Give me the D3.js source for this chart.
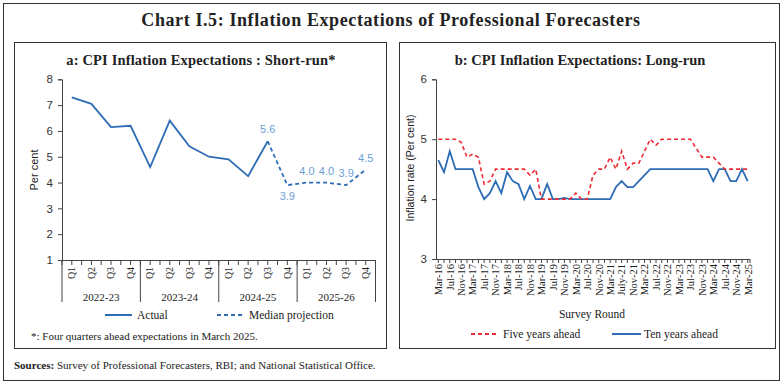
<!DOCTYPE html>
<html><head><meta charset="utf-8">
<script src="https://cdn.jsdelivr.net/npm/d3@7"></script>
<style>
body{margin:0;background:#fff;}
svg{display:block;}
</style></head>
<body>
<svg id="c" width="783" height="383"></svg>
<script>
// ---------- Data: panel a ----------
const quarters = ["Q1","Q2","Q3","Q4","Q1","Q2","Q3","Q4","Q1","Q2","Q3","Q4","Q1","Q2","Q3","Q4"];
const years = ["2022-23","2023-24","2024-25","2025-26"];
const actualValues = [7.3,7.05,6.15,6.2,4.6,6.4,5.4,5.0,4.9,4.25,5.6];
const projectionValues = [5.6,3.9,4.0,4.0,3.9,4.5]; // starts at last actual (index 10)
const projectionLabels = ["5.6","3.9","4.0","4.0","3.9","4.5"];
const yTicksA = [1,2,3,4,5,6,7,8];

// ---------- Data: panel b ----------
const rounds = ["Mar-16","May-16","Jul-16","Sep-16","Nov-16","Jan-17","Mar-17","May-17","Jul-17","Sep-17","Nov-17","Jan-18",
"Mar-18","May-18","Jul-18","Sep-18","Nov-18","Jan-19","Mar-19","May-19","Jul-19","Sep-19","Nov-19","Jan-20",
"Mar-20","May-20","Jul-20","Sep-20","Nov-20","Jan-21","Mar-21","May-21","July-21","Sep-21","Nov-21","Jan-22",
"Mar-22","May-22","Jul-22","Sep-22","Nov-22","Jan-23","Mar-23","May-23","Jul-23","Sep-23","Nov-23","Jan-24",
"Mar-24","May-24","Jul-24","Sep-24","Nov-24","Jan-25","Mar-25"];
const fiveYears = [5.0,5.0,5.0,5.0,4.95,4.7,4.75,4.7,4.25,4.3,4.5,4.5,4.5,4.5,4.5,4.5,4.4,4.5,4.0,4.0,
4.0,4.0,4.0,4.0,4.1,4.0,4.0,4.4,4.5,4.5,4.7,4.5,4.8,4.5,4.6,4.6,4.8,5.0,4.9,5.0,
5.0,5.0,5.0,5.0,5.0,4.85,4.7,4.7,4.7,4.6,4.5,4.5,4.5,4.5,4.5];
const tenYears = [4.65,4.45,4.8,4.5,4.5,4.5,4.5,4.2,4.0,4.1,4.3,4.1,4.45,4.3,4.25,4.0,4.22,4.0,4.0,4.25,
4.0,4.0,4.02,4.0,4.0,4.0,4.0,4.0,4.0,4.0,4.0,4.2,4.3,4.2,4.2,4.3,4.4,4.5,4.5,4.5,
4.5,4.5,4.5,4.5,4.5,4.5,4.5,4.5,4.3,4.5,4.5,4.3,4.3,4.5,4.3];
const yTicksB = [3,4,5,6];

// ---------- Styles ----------
const SERIF = "'Liberation Serif','DejaVu Serif',serif";
const SANS = "'Liberation Sans','DejaVu Sans',Arial,sans-serif";
const BLUE = "#2e6db5";
const LBLUE = "#6c9fd6";
const RED = "#ee2a32";
const TXT = "#222";
const AX = "#444";

const svg = d3.select("#c");

// frames
svg.append("rect").attr("x",3.5).attr("y",3.5).attr("width",776).attr("height",377)
  .attr("fill","none").attr("stroke","#333").attr("stroke-width",1);
svg.append("rect").attr("x",14.5).attr("y",42.5).attr("width",372).attr("height",306)
  .attr("fill","none").attr("stroke","#333").attr("stroke-width",1);
svg.append("rect").attr("x",399.5).attr("y",42.5).attr("width",376).attr("height",306)
  .attr("fill","none").attr("stroke","#333").attr("stroke-width",1);

svg.append("text").attr("x",391).attr("y",26).attr("text-anchor","middle")
  .attr("font-family",SERIF).attr("font-weight","bold").attr("font-size",18).attr("letter-spacing",0.6).attr("fill",TXT)
  .text("Chart I.5: Inflation Expectations of Professional Forecasters");

svg.append("text").attr("x",201).attr("y",65).attr("text-anchor","middle")
  .attr("font-family",SERIF).attr("font-weight","bold").attr("font-size",14.5).attr("letter-spacing",0.15).attr("fill",TXT)
  .text("a: CPI Inflation Expectations : Short-run*");
svg.append("text").attr("x",580).attr("y",65).attr("text-anchor","middle")
  .attr("font-family",SERIF).attr("font-weight","bold").attr("font-size",14.5).attr("fill",TXT)
  .text("b: CPI Inflation Expectations: Long-run");

const src = svg.append("text").attr("x",14).attr("y",369).attr("font-family",SERIF).attr("font-size",11).attr("fill",TXT);
src.append("tspan").attr("font-weight","bold").text("Sources: ");
src.append("tspan").text("Survey of Professional Forecasters, RBI; and National Statistical Office.");

// ---------- Panel a ----------
const xA = d3.scaleBand().domain(d3.range(quarters.length)).range([62,375.5]).padding(0);
const yA = d3.scaleLinear().domain([1,8]).range([260,79.3]);
const gA = svg.append("g");

const yAxisA = gA.append("g").attr("transform","translate(62,0)")
  .call(d3.axisLeft(yA).tickValues(yTicksA).tickSize(4).tickFormat(d3.format("d")));
yAxisA.select(".domain").attr("stroke",AX);
yAxisA.selectAll(".tick line").attr("stroke",AX);
yAxisA.selectAll("text").attr("font-family",SANS).attr("font-size",11.5).attr("fill","#333").attr("dx",-2);

// x axis line
gA.append("line").attr("x1",62).attr("x2",375.5).attr("y1",260.5).attr("y2",260.5).attr("stroke",AX);
const halfTicks = [];
d3.range(quarters.length).forEach(i=>{ halfTicks.push(xA(i)); halfTicks.push(xA(i)+xA.bandwidth()/2); });
halfTicks.push(375.5);
gA.selectAll(".ht").data(halfTicks).join("line").attr("x1",d=>d).attr("x2",d=>d)
  .attr("y1",260).attr("y2",265).attr("stroke",AX);
// group separators
const groupEdges = d3.range(years.length+1).map(k=> k<years.length ? xA(k*4) : xA(15)+xA.bandwidth());
gA.selectAll(".gs").data(groupEdges).join("line").attr("x1",d=>d).attr("x2",d=>d)
  .attr("y1",260).attr("y2",302).attr("stroke",AX);
// quarter labels
gA.selectAll(".ql").data(quarters).join("text")
  .attr("transform",(d,i)=>`translate(${xA(i)+xA.bandwidth()/2+3.3},273) rotate(-90)`)
  .attr("text-anchor","middle").attr("font-family",SERIF).attr("font-size",10).attr("fill",TXT).text(d=>d);
gA.selectAll(".yl").data(years).join("text")
  .attr("x",(d,i)=>xA(i*4)+2*xA.bandwidth()).attr("y",301)
  .attr("text-anchor","middle").attr("font-family",SERIF).attr("font-size",11).attr("fill",TXT).text(d=>d);

gA.append("text").attr("transform","translate(38,170) rotate(-90)").attr("text-anchor","middle")
  .attr("font-family",SANS).attr("font-size",11).attr("fill",TXT).text("Per cent");

const lineA = d3.line().x(d=>xA(d.i)+xA.bandwidth()/2).y(d=>yA(d.v));
const actualPts = actualValues.map((v,i)=>({i,v}));
const projPts = projectionValues.map((v,k)=>({i:10+k,v}));
gA.append("path").datum(actualPts).attr("d",lineA).attr("fill","none").attr("stroke",BLUE).attr("stroke-width",1.8);
gA.append("path").datum(projPts).attr("d",lineA).attr("fill","none").attr("stroke",BLUE).attr("stroke-width",1.8)
  .attr("stroke-dasharray","4,3");
gA.selectAll(".dl").data(projPts).join("text")
  .attr("x",d=>xA(d.i)+xA.bandwidth()/2).attr("y",(d,k)=> k===1 ? yA(d.v)+15 : yA(d.v)-8)
  .attr("text-anchor","middle").attr("font-family",SANS).attr("font-size",11).attr("fill",LBLUE)
  .text((d,k)=>projectionLabels[k]);

// legend a
gA.append("line").attr("x1",105).attr("x2",132).attr("y1",315).attr("y2",315).attr("stroke",BLUE).attr("stroke-width",2);
gA.append("text").attr("x",137).attr("y",319).attr("font-family",SERIF).attr("font-size",11.5).attr("fill",TXT).text("Actual");
gA.append("line").attr("x1",217).attr("x2",245).attr("y1",315).attr("y2",315).attr("stroke",BLUE).attr("stroke-width",2).attr("stroke-dasharray","4,3");
gA.append("text").attr("x",249).attr("y",319).attr("font-family",SERIF).attr("font-size",11.5).attr("fill",TXT).text("Median projection");
gA.append("text").attr("x",31).attr("y",340).attr("font-family",SERIF).attr("font-size",11).attr("fill",TXT)
  .text("*: Four quarters ahead expectations in March 2025.");

// ---------- Panel b ----------
const xB = d3.scalePoint().domain(rounds).range([438.3,747.7]);
const yB = d3.scaleLinear().domain([3,6]).range([259,79.3]);
const gB = svg.append("g");
const yAxisB = gB.append("g").attr("transform","translate(436,0)")
  .call(d3.axisLeft(yB).tickValues(yTicksB).tickSize(4).tickFormat(d3.format("d")));
yAxisB.select(".domain").attr("stroke",AX);
yAxisB.selectAll(".tick line").attr("stroke",AX);
yAxisB.selectAll("text").attr("font-family",SANS).attr("font-size",11.5).attr("fill","#333").attr("dx",-2);

gB.append("line").attr("x1",436).attr("x2",750).attr("y1",259.5).attr("y2",259.5).attr("stroke",AX);
gB.selectAll(".tb").data(rounds).join("line").attr("x1",d=>xB(d)).attr("x2",d=>xB(d))
  .attr("y1",259).attr("y2",263).attr("stroke",AX);
gB.append("line").attr("x1",750).attr("x2",750).attr("y1",259).attr("y2",263).attr("stroke",AX);
gB.selectAll(".xl").data(rounds.filter((d,i)=>i%2===0)).join("text")
  .attr("transform",d=>`translate(${xB(d)+3.8},264) rotate(-90)`)
  .attr("text-anchor","end").attr("font-family",SERIF).attr("font-size",10.5).attr("fill",TXT).text(d=>d);

gB.append("text").attr("transform","translate(414,168) rotate(-90)").attr("text-anchor","middle")
  .attr("font-family",SANS).attr("font-size",10.5).attr("fill",TXT).text("Inflation rate (Per cent)");
gB.append("text").attr("x",592).attr("y",318).attr("text-anchor","middle")
  .attr("font-family",SERIF).attr("font-size",11.5).attr("fill",TXT).text("Survey Round");

const lineB = d3.line().x((d,i)=>xB(rounds[i])).y(d=>yB(d));
gB.append("path").datum(tenYears).attr("d",lineB).attr("fill","none").attr("stroke",BLUE).attr("stroke-width",1.8);
gB.append("path").datum(fiveYears).attr("d",lineB).attr("fill","none").attr("stroke",RED).attr("stroke-width",1.6)
  .attr("stroke-dasharray","4,3");

gB.append("line").attr("x1",471).attr("x2",499).attr("y1",334).attr("y2",334).attr("stroke",RED).attr("stroke-width",2).attr("stroke-dasharray","4,3");
gB.append("text").attr("x",503).attr("y",338).attr("font-family",SERIF).attr("font-size",11.5).attr("fill",TXT).text("Five years ahead");
gB.append("line").attr("x1",612).attr("x2",641).attr("y1",334).attr("y2",334).attr("stroke",BLUE).attr("stroke-width",2);
gB.append("text").attr("x",644).attr("y",338).attr("font-family",SERIF).attr("font-size",11.5).attr("fill",TXT).text("Ten years ahead");
</script>
</body></html>
